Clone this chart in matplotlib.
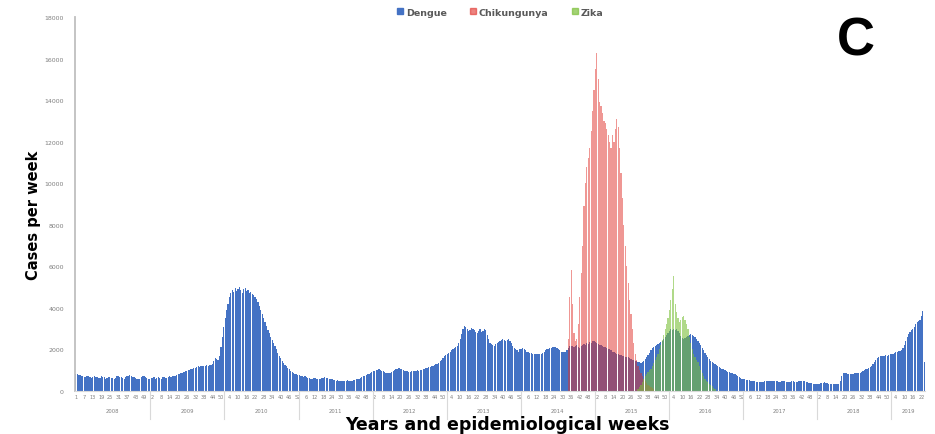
import matplotlib
matplotlib.use("Agg")
import matplotlib.pyplot as plt
from matplotlib.patches import Patch
import numpy as np

##################################################
# Weekly cases per year (epidemiological weeks)
##################################################

years = ["2008", "2009", "2010", "2011", "2012", "2013",
         "2014", "2015", "2016", "2017", "2018", "2019"]

dengue_2008 = [820, 800, 790, 760, 700, 720, 680, 650, 700, 720, 690, 640, 660, 700, 680, 650,
               620, 640, 700, 680, 650, 600, 620, 650, 680, 640, 610, 600, 640, 700, 720, 680,
               650, 620, 600, 650, 700, 740, 760, 720, 680, 650, 620, 600, 580, 600, 650, 700,
               720, 680, 620, 580, 600]
dengue_2009 = [640, 620, 650, 600, 640, 660, 620, 600, 650, 680, 640, 620, 660, 700, 680, 720,
               700, 740, 760, 800, 820, 850, 880, 900, 940, 960, 1000, 1020, 1050, 1080, 1100,
               1120, 1150, 1180, 1150, 1200, 1220, 1180, 1200, 1250, 1200, 1230, 1260, 1300,
               1450, 1600, 1550, 1500, 1700, 2100, 2600, 3100]
dengue_2010 = [3500, 3900, 4200, 4500, 4700, 4850, 4750, 4950, 4800, 4900, 5000, 4850, 4700,
               4900, 4950, 4800, 4850, 4700, 4750, 4650, 4600, 4500, 4450, 4300, 4100, 3900,
               3700, 3500, 3300, 3150, 2950, 2800, 2600, 2450, 2300, 2150, 2000, 1850, 1700,
               1600, 1450, 1350, 1250, 1200, 1100, 1050, 980, 920, 880, 840, 800, 780]
dengue_2011 = [760, 720, 700, 680, 700, 650, 620, 640, 600, 580, 620, 640, 600, 580, 560, 600,
               620, 640, 660, 640, 620, 600, 580, 560, 540, 520, 500, 520, 500, 480, 500, 490,
               480, 500, 510, 490, 480, 500, 520, 540, 560, 580, 600, 640, 680, 700, 740, 780,
               800, 820, 860, 900]
dengue_2012 = [940, 980, 1000, 1020, 1040, 1000, 960, 940, 900, 880, 860, 870, 880, 920, 960,
               1000, 1050, 1080, 1100, 1080, 1040, 1000, 980, 960, 940, 930, 920, 940, 960, 980,
               970, 990, 980, 1000, 1020, 1050, 1080, 1100, 1130, 1150, 1170, 1200, 1220, 1250,
               1280, 1300, 1350, 1420, 1500, 1600, 1700, 1740]
dengue_2013 = [1800, 1850, 1900, 1950, 2000, 2050, 2100, 2150, 2300, 2500, 2750, 3000, 3150,
               3100, 3000, 2900, 2950, 3050, 3000, 2950, 2850, 2800, 2900, 3000, 2850, 2900,
               3000, 2950, 2700, 2500, 2300, 2250, 2200, 2180, 2250, 2300, 2350, 2400, 2450,
               2500, 2450, 2400, 2450, 2500, 2420, 2300, 2150, 2050, 2000, 1950, 1900, 2000]
dengue_2014 = [2000, 2050, 2000, 1950, 1900, 1880, 1850, 1820, 1800, 1780, 1800, 1780, 1760,
               1770, 1790, 1850, 1900, 1950, 2000, 2020, 2050, 2080, 2100, 2120, 2100, 2050,
               2000, 1950, 1900, 1880, 1870, 1900, 1950, 2050, 2150, 2180, 2150, 2100, 2150,
               2200, 2100, 2050, 2150, 2200, 2250, 2200, 2300, 2250, 2350, 2300, 2400, 2420]
dengue_2015 = [2350, 2300, 2250, 2200, 2200, 2150, 2100, 2100, 2050, 2000, 2000, 1950, 1900,
               1870, 1850, 1800, 1780, 1750, 1720, 1700, 1680, 1650, 1630, 1620, 1600, 1550,
               1500, 1480, 1460, 1430, 1400, 1380, 1350, 1400, 1450, 1550, 1650, 1750, 1850,
               1950, 2050, 2100, 2150, 2200, 2250, 2300, 2350, 2400, 2500, 2600, 2700, 2800]
dengue_2016 = [2900, 3000, 2950, 3000, 2950, 3000, 2900, 2800, 2650, 2550, 2500, 2550, 2600,
               2650, 2700, 2750, 2700, 2650, 2600, 2500, 2400, 2300, 2200, 2050, 1950, 1850,
               1750, 1650, 1550, 1450, 1400, 1350, 1300, 1250, 1200, 1150, 1100, 1080, 1050,
               1000, 960, 930, 900, 880, 860, 830, 800, 760, 720, 680, 640, 600]
dengue_2017 = [580, 560, 540, 520, 510, 500, 480, 470, 460, 450, 440, 430, 420, 430, 450, 470,
               480, 500, 490, 470, 460, 480, 500, 490, 470, 450, 440, 460, 480, 470, 450, 440,
               430, 450, 470, 460, 440, 430, 450, 470, 490, 500, 480, 460, 440, 420, 400, 380,
               360, 350, 340, 330]
dengue_2018 = [340, 350, 360, 380, 400, 420, 400, 380, 350, 330, 320, 330, 340, 320, 330, 350,
               500, 700, 850, 880, 860, 840, 820, 800, 820, 840, 860, 870, 880, 860, 880, 900,
               950, 1000, 1050, 1060, 1100, 1150, 1200, 1300, 1400, 1500, 1600, 1650, 1700,
               1700, 1680, 1700, 1720, 1700, 1740, 1770]
dengue_2019 = [1780, 1800, 1850, 1870, 1900, 1920, 1930, 1950, 2050, 2200, 2400, 2600, 2750,
               2850, 2950, 3000, 3100, 3200, 3300, 3350, 3400, 3600, 3850, 1400]

dengue_by_year = [dengue_2008, dengue_2009, dengue_2010, dengue_2011, dengue_2012, dengue_2013,
                  dengue_2014, dengue_2015, dengue_2016, dengue_2017, dengue_2018, dengue_2019]

# Chikungunya from 2014 week 34
chik_start = ("2014", 34)
chikungunya = [2500, 4500, 5800, 4200, 2800, 2400, 2500, 3200, 4500, 5700, 7000, 8900, 10000,
               10800, 11200, 11700, 12500, 13500, 14500, 15500, 16250, 15000, 13900, 13700,
               13400, 13000, 12900, 12600, 12300, 12000, 11700, 12300, 12000, 12600, 13100,
               12700, 11700, 10500, 9300, 8000, 7000, 6000, 5200, 4400, 3700, 3000, 2300, 1800,
               1500, 1200, 1000, 850, 700, 600, 500, 400, 300, 250, 200, 150, 100]

# Zika from 2015 week 31
zika_start = ("2015", 31)
zika = [100, 200, 300, 450, 580, 700, 800, 900, 1000, 1060, 1200, 1350, 1500, 1650, 1800, 2000,
        2200, 2450, 2700, 3000, 3200, 3500, 3900, 4400, 4900, 5550, 4200, 3800, 3500, 3300,
        3400, 3550, 3600, 3400, 3200, 3000, 2600, 2300, 2000, 1800, 1650, 1500, 1400, 1200,
        1000, 850, 720, 600, 500, 420, 350, 300, 220, 150, 100]

y_ticks = [0, 2000, 4000, 6000, 8000, 10000, 12000, 14000, 16000, 18000]


##################################################
# Category positions
##################################################

year_len = [len(v) for v in dengue_by_year]
year_first = np.concatenate([[0], np.cumsum(year_len)[:-1]])
dengue = np.concatenate(dengue_by_year)
n_weeks = len(dengue)


def week_index(year, week):
    return year_first[years.index(year)] + week - 1


x_all = np.arange(n_weeks)
x_chik = week_index(*chik_start) + np.arange(len(chikungunya))
x_zika = week_index(*zika_start) + np.arange(len(zika))

# week number shown every 6th category, like the original axis
tick_pos = np.arange(0, n_weeks, 6)
tick_lab = []
for p in tick_pos:
    yi = np.searchsorted(year_first, p, side="right") - 1
    tick_lab.append(str(p - year_first[yi] + 1))


##################################################
# Chart
##################################################

fig = plt.figure(figsize=(9.35, 4.35), dpi=100)
ax = fig.add_axes([0.0802, 0.0989, 0.9091, 0.8597])

ax.bar(x_all, dengue, width=0.85, color="#4472C4", linewidth=0)
ax.bar(x_chik, chikungunya, width=0.85, color="#E0302A", alpha=0.5, linewidth=0)
ax.bar(x_zika, zika, width=0.85, color="#7CC03A", alpha=0.6, linewidth=0)

ax.set_xlim(-0.5, n_weeks - 0.5)
ax.set_ylim(0, 18000)

for s in ["top", "right"]:
    ax.spines[s].set_visible(False)
ax.spines["left"].set_color("#bfbfbf")
ax.spines["left"].set_linewidth(1.3)
ax.spines["bottom"].set_color("#d9d9d9")
ax.spines["bottom"].set_linewidth(0.8)

ax.set_yticks(y_ticks)
ax.set_yticklabels([str(v) for v in y_ticks], fontsize=4.5, color="#7f7f7f")
ax.tick_params(axis="y", length=0, pad=8)

ax.set_xticks(tick_pos)
ax.set_xticklabels(tick_lab, fontsize=3.6, color="#7f7f7f")
ax.tick_params(axis="x", length=0, pad=2)

# year labels and separators below the week numbers
xt = ax.get_xaxis_transform()
for i, yr in enumerate(years):
    center = year_first[i] + year_len[i] / 2 - 0.5
    ax.text(center, -0.052, yr, transform=xt, ha="center", va="center",
            fontsize=3.8, color="#7f7f7f")
    if i > 0:
        ax.plot([year_first[i] - 0.5] * 2, [0, -0.075], transform=xt,
                color="#d9d9d9", lw=0.8, clip_on=False)

fig.text(0.543, 0.023, "Years and epidemiological weeks", ha="center", va="center",
         fontsize=12.5, fontweight="bold")
fig.text(0.036, 0.506, "Cases per week", ha="center", va="center", rotation=90,
         fontsize=10.5, fontweight="bold")

handles = [Patch(color="#4472C4", label="Dengue"),
           Patch(color="#E0302A", alpha=0.6, label="Chikungunya"),
           Patch(color="#7CC03A", alpha=0.7, label="Zika")]
leg = fig.legend(handles=handles, loc="center", bbox_to_anchor=(0.535, 0.97), ncol=3,
                 frameon=False, fontsize=6.8, handlelength=0.6, handleheight=0.6,
                 handletextpad=0.3, columnspacing=2.5)
for t in leg.get_texts():
    t.set_color("#595959")
    t.set_fontweight("bold")

fig.text(0.915, 0.905, "C", ha="center", va="center", fontsize=38, fontweight="bold",
         family="Liberation Sans")

fig.savefig("out.png", dpi=100)
